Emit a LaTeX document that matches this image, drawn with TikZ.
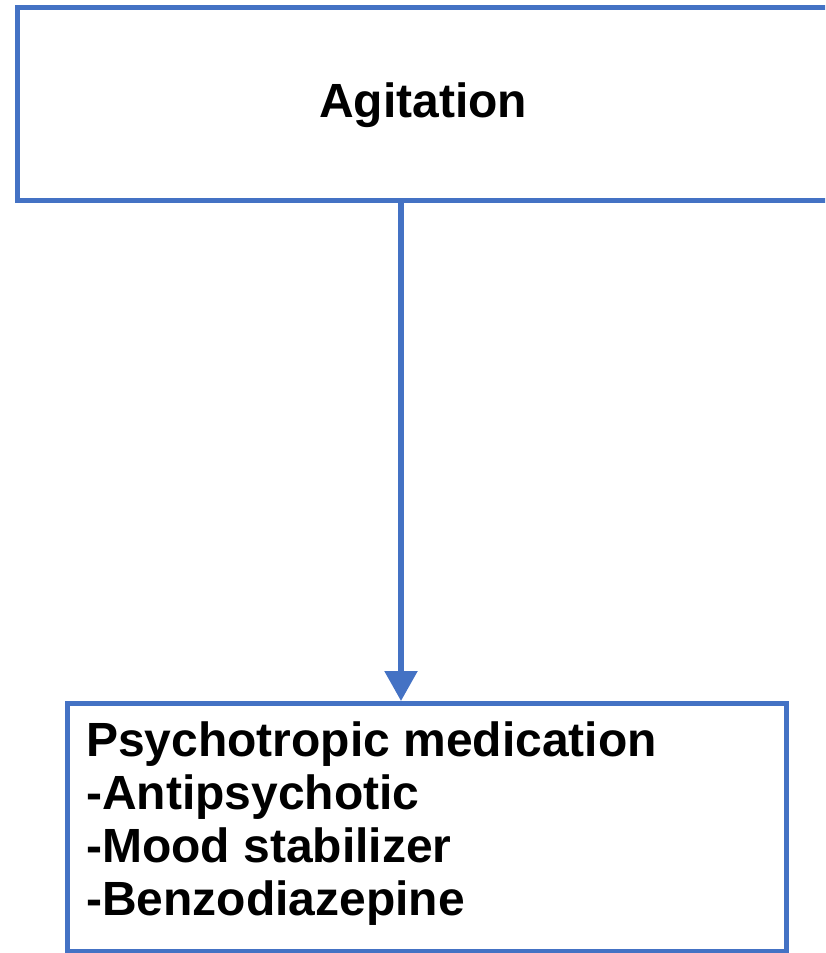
\documentclass[tikz,border=0pt]{standalone}
\usepackage{fontspec}
\setmainfont{Liberation Sans}
\usetikzlibrary{arrows.meta}
\definecolor{boxblue}{HTML}{4472C4}
\tikzset{
  frame/.style={draw=boxblue, line width=5pt, fill=white},
  label/.style={font=\fontsize{48}{53}\selectfont\bfseries},
  link/.style={draw=boxblue, line width=5.5pt, -{Triangle[length=30pt,width=32pt]}}
}
\begin{document}
\begin{tikzpicture}[x=1pt,y=-1pt]
  \useasboundingbox (0,0) rectangle (825,953);
  \clip (0,0) rectangle (825,953);
  % top box (runs off the right edge)
  \path[frame] (17,7) rectangle (840,200);
  \node[label, anchor=center] (agit) at (423,105) {Agitation};
  \coordinate (topmid) at (401,200);
  % bottom box
  \path[frame] (67,703) rectangle (786,951);
  \coordinate (botmid) at (401,701);
  \node[label, anchor=north west, align=left, inner sep=0pt] (meds) at (86,722)
    {Psychotropic medication\\-Antipsychotic\\-Mood stabilizer\\-Benzodiazepine};
  \draw[link] (topmid) -- (botmid);
\end{tikzpicture}
\end{document}
